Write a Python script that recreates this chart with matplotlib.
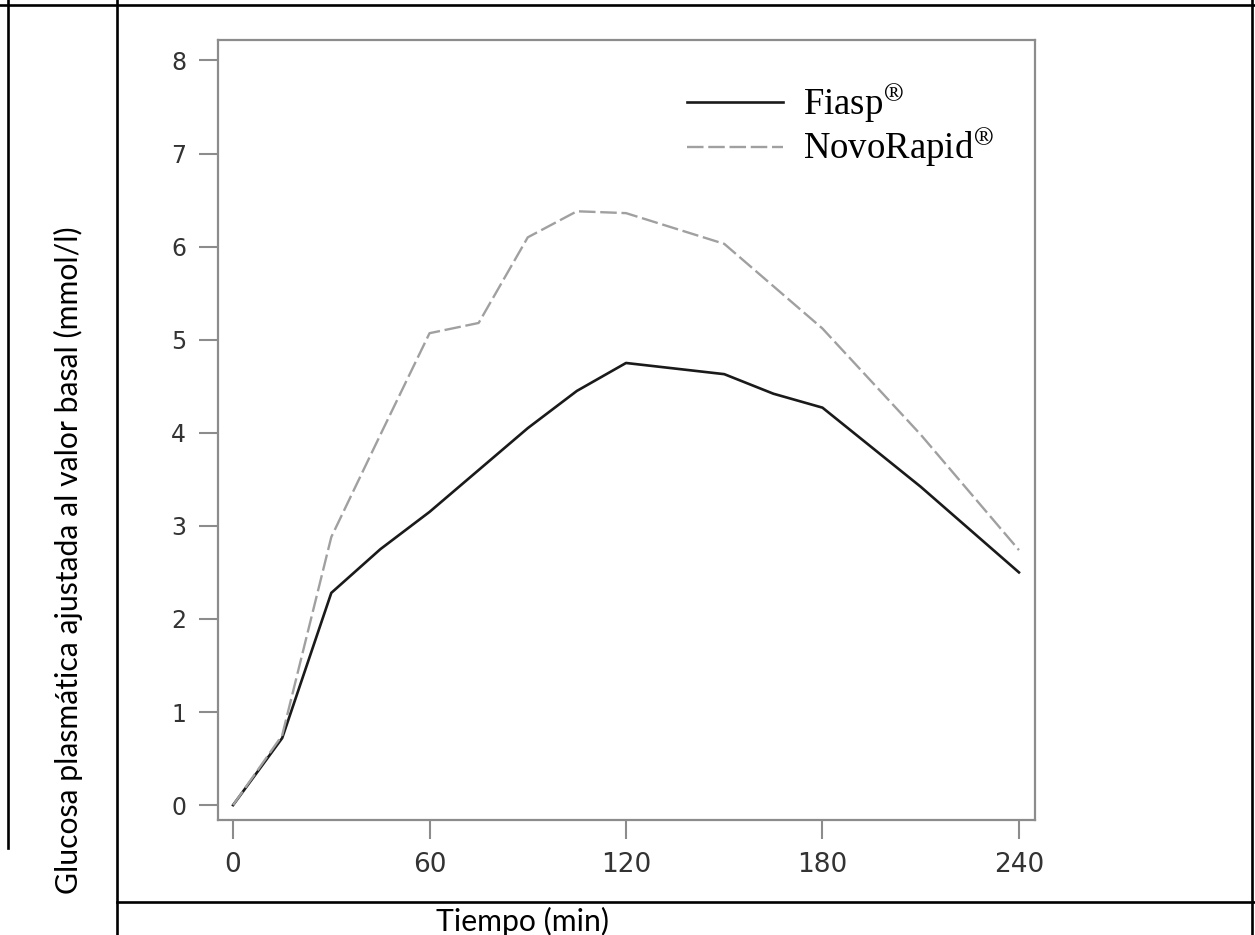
import matplotlib
matplotlib.use("Agg")
import matplotlib.pyplot as plt
from matplotlib.lines import Line2D

# ---- data ----
time_min = [0, 15, 30, 45, 60, 75, 90, 105, 120, 150, 165, 180, 210, 240]
fiasp = [0.0, 0.72, 2.28, 2.75, 3.15, 3.6, 4.05, 4.45, 4.75, 4.63, 4.42, 4.27, 3.42, 2.5]
novorapid_t = [0, 15, 30, 45, 60, 75, 90, 105, 120, 150, 180, 210, 240]
novorapid = [0.0, 0.75, 2.88, 3.98, 5.07, 5.18, 6.1, 6.38, 6.36, 6.03, 5.12, 3.98, 2.74]
xticks = [0, 60, 120, 180, 240]
yticks = [0, 1, 2, 3, 4, 5, 6, 7, 8]
labels = ["Fiasp$^{\\circledR}$", "NovoRapid$^{\\circledR}$"]
ylabel = "Glucosa plasmática ajustada al valor basal (mmol/l)"
xlabel = "Tiempo (min)"

W, H = 1255, 935
fig = plt.figure(figsize=(W / 100, H / 100), dpi=100)
plt.rcParams['mathtext.fontset'] = 'stix'

def fx(px):
    return px / W

def fy(py):
    return 1 - py / H

ax = fig.add_axes([fx(218), fy(820), fx(1035) - fx(218), fy(40) - fy(820)])
ax.plot(time_min, fiasp, color='#1a1a1a', lw=1.9, label=labels[0])
ax.plot(novorapid_t, novorapid, color='#a0a0a0', lw=1.7, dashes=(7, 2), label=labels[1])

ax.set_xlim(-4.6, 244.9)
ax.set_ylim(-0.16, 8.22)
ax.set_xticks(xticks)
ax.set_yticks(yticks)
for s in ax.spines.values():
    s.set_color('#8c8c8c')
    s.set_linewidth(1.6)
ax.tick_params(axis='both', direction='out', length=14, width=1.5, color='#8c8c8c',
               pad=9, labelcolor='#333333')
ax.tick_params(axis='x', labelsize=19)
ax.tick_params(axis='y', labelsize=17)

leg = ax.legend(loc='upper right', bbox_to_anchor=(0.99, 0.988), frameon=False,
                prop={'family': 'Liberation Serif', 'size': 26.5},
                handlelength=2.6, handletextpad=0.55, labelspacing=0.05)

# table-like frame lines
lc = 'black'
lw = 1.9
fig.add_artist(Line2D([fx(0), fx(W)], [fy(4.5), fy(4.5)], color=lc, lw=lw))
fig.add_artist(Line2D([fx(8.3), fx(8.3)], [fy(0), fy(848)], color=lc, lw=lw))
fig.add_artist(Line2D([fx(117), fx(117)], [fy(0), fy(H)], color=lc, lw=lw))
fig.add_artist(Line2D([fx(1252), fx(1252)], [fy(0), fy(H)], color=lc, lw=lw))
fig.add_artist(Line2D([fx(117), fx(W)], [fy(902), fy(902)], color=lc, lw=lw))

fig.text(fx(68), fy(560), ylabel, rotation=90, ha='center', va='center',
         fontsize=21.7, family='Lato', color='black')
fig.text(fx(523), fy(921), xlabel, ha='center', va='center',
         fontsize=21.7, family='Lato', color='black')

fig.savefig('out.png', dpi=100)
